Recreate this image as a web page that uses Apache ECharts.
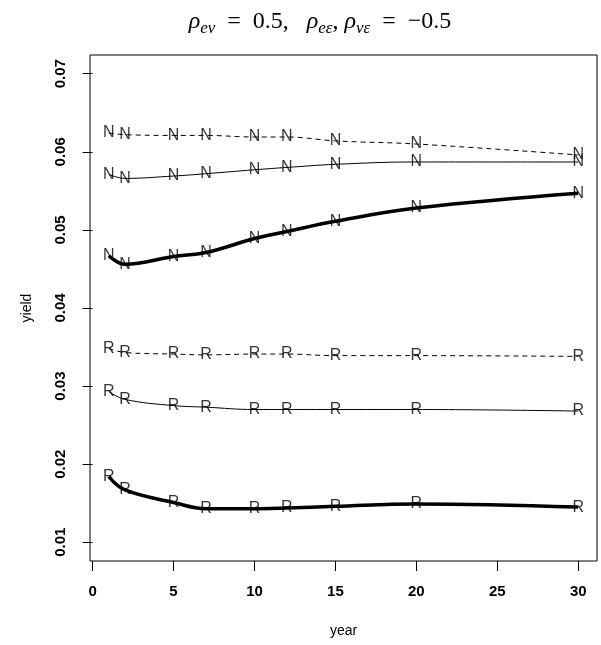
<!DOCTYPE html>
<html>
<head>
<meta charset="utf-8">
<script src="https://cdn.jsdelivr.net/npm/echarts@6/dist/echarts.min.js"></script>
<style>
  html, body { margin: 0; padding: 0; background: #fff; }
  #chart { width: 601px; height: 645px; }
</style>
</head>
<body>
<div id="chart"></div>
<script>
const years = [1, 2, 5, 7, 10, 12, 15, 20, 30]

const nDashed = [0.0624, 0.0622, 0.0621, 0.0621, 0.0619, 0.0619, 0.0614, 0.0610, 0.0596]
const nThin = [0.0571, 0.0566, 0.0569, 0.0572, 0.0577, 0.0580, 0.0584, 0.0587, 0.0587]
const nThick = [0.0467, 0.0456, 0.0466, 0.0471, 0.0489, 0.0498, 0.0511, 0.0528, 0.0547]
const rDashed = [0.0348, 0.0343, 0.0341, 0.0340, 0.0341, 0.0341, 0.0339, 0.0339, 0.0338]
const rThin = [0.0293, 0.0283, 0.0275, 0.0273, 0.0270, 0.0270, 0.0270, 0.0270, 0.0268]
const rThick = [0.0184, 0.0167, 0.0151, 0.0143, 0.0143, 0.0144, 0.0146, 0.0149, 0.0145]

const xTicks = [0, 5, 10, 15, 20, 25, 30]
const yTicks = [0.01, 0.02, 0.03, 0.04, 0.05, 0.06, 0.07]

const curves = [
  { letter: 'N', values: nDashed, width: 1, dash: [5, 4] },
  { letter: 'N', values: nThin, width: 1, dash: 'solid' },
  { letter: 'N', values: nThick, width: 3.5, dash: 'solid' },
  { letter: 'R', values: rDashed, width: 1, dash: [5, 4] },
  { letter: 'R', values: rThin, width: 1, dash: 'solid' },
  { letter: 'R', values: rThick, width: 3.5, dash: 'solid' },
]

const pairs = (vals) => years.map((x, i) => [x, vals[i]])

const series = []
curves.forEach((c) => {
  series.push({
    type: 'line',
    data: pairs(c.values),
    smooth: 0.4,
    showSymbol: false,
    lineStyle: { color: '#000', width: c.width, type: c.dash },
    z: 2,
  })
  series.push({
    type: 'scatter',
    data: pairs(c.values),
    symbolSize: 1,
    itemStyle: { color: 'rgba(0,0,0,0)' },
    label: {
      show: true,
      position: 'inside',
      formatter: c.letter,
      color: '#000',
      fontFamily: 'Liberation Sans',
      fontSize: 16,
    },
    z: 3,
  })
})

const serif = 'Liberation Serif'

const chart = echarts.init(document.getElementById('chart'), null, { renderer: 'canvas' })
chart.setOption({
  animation: false,
  backgroundColor: '#fff',
  grid: {
    left: 90, right: 4, top: 55, bottom: 84,
    show: true, borderColor: '#000', borderWidth: 1, backgroundColor: 'transparent',
  },
  graphic: [{
    type: 'text',
    x: 320, y: 22,
    style: {
      text: '{r|ρ}{s|eν}{t|  =  0.5,   }{r|ρ}{s|eε}{t|, }{r|ρ}{s|νε}{t|  =  −0.5}',
      align: 'center',
      verticalAlign: 'middle',
      rich: {
        r: { fontFamily: serif, fontStyle: 'italic', fontSize: 24, color: '#000', lineHeight: 30, verticalAlign: 'middle' },
        t: { fontFamily: serif, fontSize: 24, color: '#000', lineHeight: 30, verticalAlign: 'middle' },
        s: { fontFamily: serif, fontStyle: 'italic', fontSize: 17, color: '#000', lineHeight: 17, verticalAlign: 'bottom' },
      },
    },
  }],
  xAxis: {
    type: 'value',
    min: -0.16, max: 31.16,
    name: 'year', nameLocation: 'middle', nameGap: 63,
    nameTextStyle: { fontFamily: 'Liberation Sans', fontSize: 14, color: '#000' },
    axisLine: { show: false },
    axisTick: { show: true, length: 10, customValues: xTicks, lineStyle: { color: '#000' } },
    axisLabel: { customValues: xTicks, margin: 23, fontFamily: 'Liberation Sans', fontWeight: 'bold', fontSize: 15, color: '#000' },
    splitLine: { show: false },
  },
  yAxis: {
    type: 'value',
    min: 0.0076, max: 0.0724,
    name: 'yield', nameLocation: 'middle', nameGap: 56, nameRotate: 90,
    nameTextStyle: { fontFamily: 'Liberation Sans', fontSize: 14, color: '#000' },
    axisLine: { show: false },
    axisTick: { show: true, length: 10, customValues: yTicks, lineStyle: { color: '#000' } },
    axisLabel: {
      customValues: yTicks, rotate: 90, margin: 22,
      formatter: (v) => v.toFixed(2),
      fontFamily: 'Liberation Sans', fontWeight: 'bold', fontSize: 15, color: '#000',
    },
    splitLine: { show: false },
  },
  series: series,
})
</script>
</body>
</html>
